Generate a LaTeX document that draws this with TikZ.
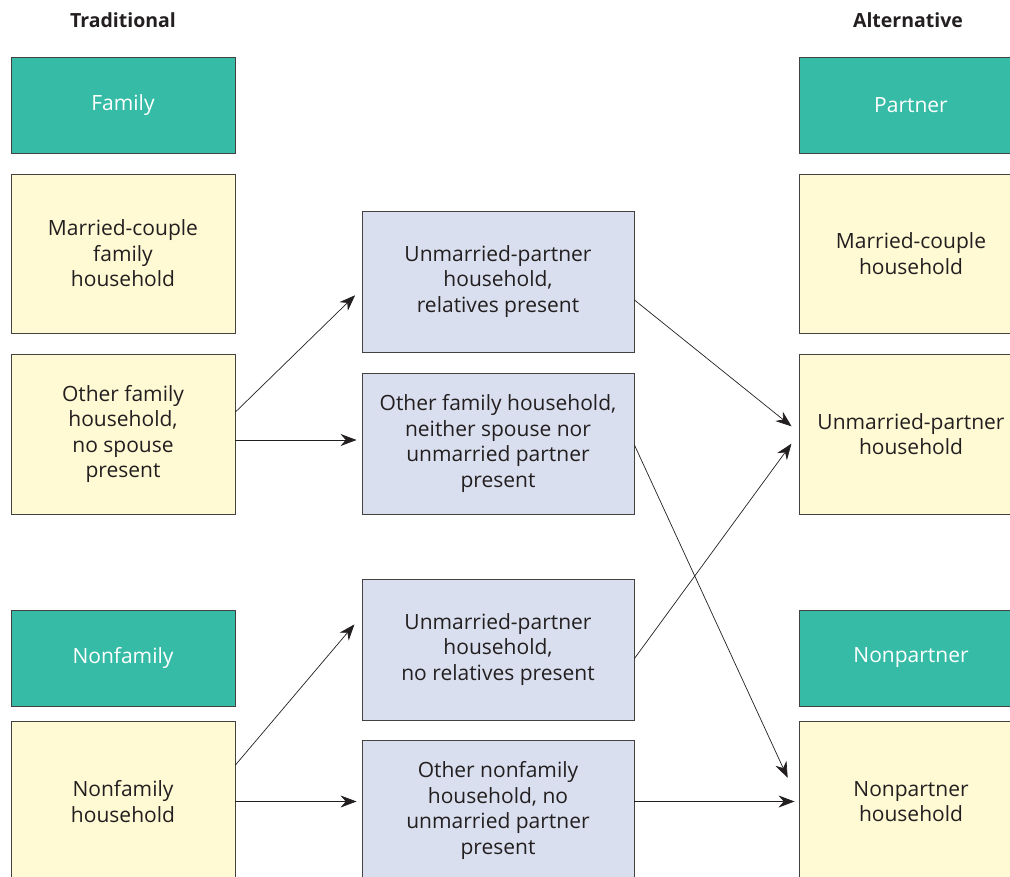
\documentclass[tikz,border=0pt]{standalone}
\usepackage{fontspec}
\setmainfont{Open Sans}
\usepackage{tikz}
\usetikzlibrary{arrows.meta}

\definecolor{headteal}{HTML}{36BBA6}
\definecolor{boxyellow}{HTML}{FFFAD3}
\definecolor{boxblue}{HTML}{D9DFEE}
\definecolor{textgray}{HTML}{231F20}

\tikzset{
    base/.style={draw=textgray!85, line width=0.9pt, align=center, inner sep=0pt,
        font=\fontsize{21}{25.5}\selectfont, text=textgray},
    headbox/.style={base, fill=headteal, text=white, minimum width=224pt, minimum height=96pt},
    sidebox/.style={base, fill=boxyellow, minimum width=224pt, minimum height=160pt},
    midbox/.style={base, fill=boxblue, minimum width=272pt, minimum height=141pt},
    coltitle/.style={font=\fontsize{19.5}{22}\selectfont\bfseries, text=textgray},
    flow/.style={-{Stealth[length=16pt,width=12pt]}, line width=0.7pt, textgray}
}

\begin{document}
\begin{tikzpicture}[x=1pt, y=1pt]
        \useasboundingbox (0,0) rectangle (1010,-877);
        \clip (0,0) rectangle (1010,-877);

        % column titles
        \node[coltitle] (trad) at (123,-20) {Traditional};
        \node[coltitle] (alt) at (908,-20) {Alternative};

        % traditional side
        \node[headbox] (fam) at (123,-105) {Family};
        \node[sidebox, minimum height=159pt] (lmc) at (123,-253.5) {Married-couple\\family\\household};
        \node[sidebox] (lof) at (123,-434) {Other family\\household,\\no spouse\\present};
        \node[headbox] (nonfam) at (123,-658) {Nonfamily};
        \node[sidebox, minimum height=161pt] (lnf) at (123,-801.5) {Nonfamily\\household};

        % in between
        \node[midbox] (mrel) at (498,-281.5) {Unmarried-partner\\household,\\relatives present};
        \node[midbox] (mofh) at (498,-443.5) {Other family household,\\neither spouse nor\\unmarried partner\\present};
        \node[midbox] (mnorel) at (498,-649.5) {Unmarried-partner\\household,\\no relatives present};
        \node[midbox] (monf) at (498,-810.5) {Other nonfamily\\household, no\\unmarried partner\\present};

        % alternative side
        \node[headbox] (part) at (911,-105) {Partner};
        \node[sidebox, minimum height=159pt] (rmc) at (911,-253.5) {Married-couple\\household};
        \node[sidebox] (rup) at (911,-434) {Unmarried-partner\\household};
        \node[headbox] (nonpart) at (911,-658) {Nonpartner};
        \node[sidebox, minimum height=161pt] (rnp) at (911,-801.5) {Nonpartner\\household};

        % arrows
        \draw[flow, shorten >=9pt] ([yshift=22pt]lof.east) -- ([yshift=-7.5pt]mrel.west);
        \draw[flow, shorten >=5pt] ([yshift=-6pt]lof.east) -- ([yshift=-6pt]lof.east -| mofh.west);
        \draw[flow, shorten >=11pt] ([yshift=36.5pt]lnf.east) -- ([yshift=33.5pt]mnorel.west);
        \draw[flow, shorten >=5pt] (lnf.east) -- (lnf.east -| monf.west);

        \draw[flow, shorten >=9pt] ([yshift=-18.5pt]mrel.east) -- ([yshift=2pt]rup.west);
        \draw[flow, shorten >=12pt] ([yshift=-9pt]mnorel.east) -- (rup.west);
        \draw[flow, shorten >=26pt] ([yshift=-1.5pt]mofh.east) -- (rnp.west);
        \draw[flow, shorten >=4pt] (rnp.west -| monf.east) -- (rnp.west);
\end{tikzpicture}
\end{document}
